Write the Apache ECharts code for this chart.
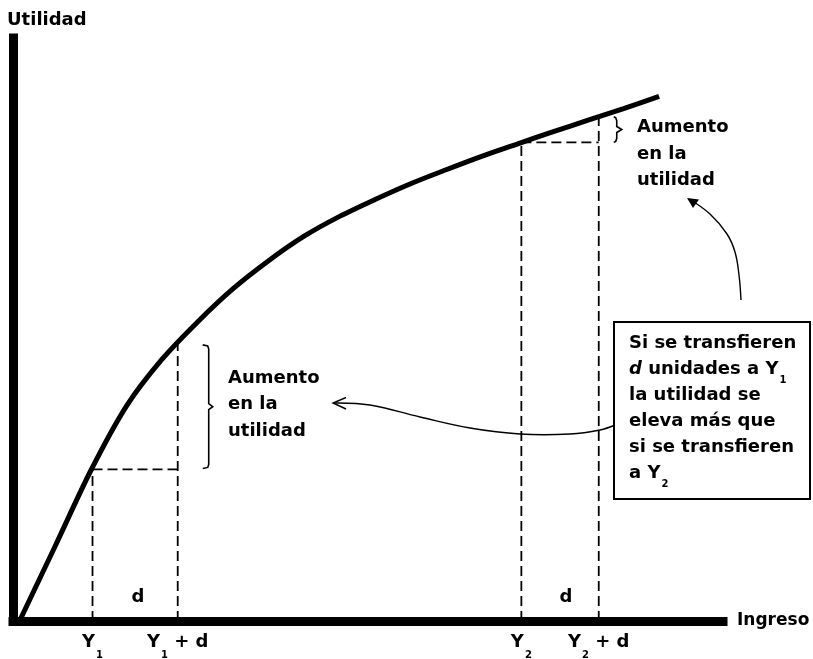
<!DOCTYPE html>
<html>
<head>
<meta charset="utf-8">
<script src="https://cdn.jsdelivr.net/npm/echarts@6/dist/echarts.min.js"></script>
<style>
html, body { margin: 0; padding: 0; background: #fff; }
#chart { width: 813px; height: 659px; }
</style>
</head>
<body>
<div id="chart"></div>
<script>
var incomeCurve = [1, 6, 11, 16, 21, 26, 31, 36, 41, 46, 51, 56, 61, 66, 71, 76, 81, 86, 91];
var utilityCurve = [0.2, 13.0, 25.9, 36.9, 44.9, 51.3, 57.0, 61.8, 66.0, 69.4, 72.3, 75.0, 77.4, 79.7, 81.8, 83.9, 85.9, 87.9, 90.0];

// Y1, Y1+d, Y2, Y2+d y su utilidad
var incomeMarks = [11.2, 23.2, 71.6, 82.5];
var utilityMarks = [26.0, 47.7, 82.1, 86.5];
var tickNames = ['Y_1', 'Y_1 + d', 'Y_2', 'Y_2 + d'];

var FONT = 'DejaVu Sans';

var curveData = incomeCurve.map(function (x, i) { return [x, utilityCurve[i]]; });

function dashed(data) {
    return {
        type: 'line',
        data: data,
        showSymbol: false,
        silent: true,
        lineStyle: { color: '#000', width: 1.8, type: [10, 5] },
        z: 1
    };
}

var series = [];
// verticales punteadas
incomeMarks.forEach(function (x, i) {
    series.push(dashed([[x, 0], [x, utilityMarks[i]]]));
});
// horizontales punteadas
series.push(dashed([[incomeMarks[0], utilityMarks[0]], [incomeMarks[1], utilityMarks[0]]]));
series.push(dashed([[incomeMarks[2], utilityMarks[2]], [incomeMarks[3], utilityMarks[2]]]));
series.push({
    type: 'line',
    data: curveData,
    smooth: 0.3,
    showSymbol: false,
    silent: true,
    lineStyle: { color: '#000', width: 5 },
    z: 3
});

function tickFormatter(value) {
    var i = incomeMarks.indexOf(value);
    if (i < 0) return '';
    var parts = tickNames[i].split('_');
    var rest = parts[1];
    return '{y|' + parts[0] + '}{s|' + rest.charAt(0) + '}' + (rest.length > 1 ? '{y|' + rest.slice(1) + '}' : '');
}

var axisLine = { show: true, onZero: false, lineStyle: { color: '#000', width: 9, cap: 'square' } };

let myChart = echarts.init(document.getElementById('chart'));

let option = {
    animation: false,
    backgroundColor: '#fff',
    grid: { left: 13, right: 90, top: 38, bottom: 38, outerBoundsMode: 'none', containLabel: false },
    xAxis: {
        type: 'value',
        min: 0,
        max: 100,
        axisLine: axisLine,
        axisTick: { show: false },
        splitLine: { show: false },
        axisLabel: {
            customValues: incomeMarks,
            formatter: tickFormatter,
            margin: 9,
            rich: {
                y: { fontFamily: FONT, fontWeight: 'bold', fontSize: 18, color: '#000', lineHeight: 24 },
                s: { fontFamily: FONT, fontWeight: 'bold', fontSize: 10, color: '#000', lineHeight: 24, verticalAlign: 'top', padding: [20, 0, 0, 1] }
            }
        },
        name: 'Ingreso',
        nameLocation: 'end',
        nameGap: 14,
        nameTextStyle: { fontFamily: FONT, fontWeight: 'bold', fontSize: 17, color: '#000', verticalAlign: 'middle' }
    },
    yAxis: {
        type: 'value',
        min: 0,
        max: 100,
        axisLine: axisLine,
        axisTick: { show: false },
        axisLabel: { show: false },
        splitLine: { show: false }
    },
    series: series
};
myChart.setOption(option);

// llave: puntos de una polilinea
function brace(x, top, bottom, hook, tip) {
    var mid = (top + bottom) / 2;
    return [[x - hook, top], [x - 1, top + 1], [x, top + 4], [x, mid - 3], [x + tip, mid],
        [x, mid + 3], [x, bottom - 4], [x - 1, bottom - 1], [x - hook, bottom]];
}

var a1 = myChart.convertToPixel({ gridIndex: 0 }, [incomeMarks[1], utilityMarks[0]]);
var a2 = myChart.convertToPixel({ gridIndex: 0 }, [incomeMarks[1], utilityMarks[1]]);
var b1 = myChart.convertToPixel({ gridIndex: 0 }, [incomeMarks[3], utilityMarks[2]]);
var b2 = myChart.convertToPixel({ gridIndex: 0 }, [incomeMarks[3], utilityMarks[3]]);

var bold = { fontFamily: FONT, fontWeight: 'bold', fontSize: 18, fill: '#000' };
function txt(x, y, text, extra) {
    var st = Object.assign({ x: x, y: y, text: text }, bold, extra || {});
    return { type: 'text', silent: true, style: st };
}
var lineSt = { stroke: '#000', lineWidth: 1.4, fill: null };
var braceSt = { stroke: '#000', lineWidth: 1.6, fill: null };

myChart.setOption({
    graphic: [
        txt(7, 20, 'Utilidad', { verticalAlign: 'middle' }),
        txt(138, 597.5, 'd', { align: 'center', verticalAlign: 'middle' }),
        txt(566, 597.5, 'd', { align: 'center', verticalAlign: 'middle' }),
        txt(228, 365, 'Aumento\nen la\nutilidad', { verticalAlign: 'top', lineHeight: 26.5 }),
        txt(637, 114.5, 'Aumento\nen la\nutilidad', { verticalAlign: 'top', lineHeight: 26.5 }),
        { type: 'polyline', silent: true, shape: { points: brace(a1[0] + 31, a2[1] + 2, a1[1] - 1, 6, 4) }, style: braceSt },
        { type: 'polyline', silent: true, shape: { points: brace(b1[0] + 18, b2[1], b1[1], 3, 5) }, style: braceSt },
        { type: 'rect', silent: true, shape: { x: 614, y: 322, width: 196, height: 177 }, style: { stroke: '#000', lineWidth: 2, fill: '#fff' }, z: 10 },
        {
            type: 'text', silent: true, z: 11,
            style: {
                x: 629, y: 330.5, verticalAlign: 'top', lineHeight: 26,
                text: '{b|Si se transfieren}\n{i|d}{b| unidades a Y}{s|1}\n{b|la utilidad se}\n{b|eleva más que}\n{b|si se transfieren}\n{b|a Y}{s|2}',
                rich: {
                    b: { fontFamily: FONT, fontWeight: 'bold', fontSize: 18, fill: '#000', lineHeight: 26 },
                    i: { fontFamily: FONT, fontWeight: 'bold', fontStyle: 'italic', fontSize: 18, fill: '#000', lineHeight: 26 },
                    s: { fontFamily: FONT, fontWeight: 'bold', fontSize: 10, fill: '#000', lineHeight: 26, verticalAlign: 'top', padding: [19, 0, 0, 1] }
                }
            }
        },
        // flecha hacia la izquierda
        { type: 'polyline', silent: true, z: 5, shape: { smooth: 0.4, points: [[615, 425], [600, 430], [570, 434], [520, 434], [470, 428], [420, 417], [370, 405], [334, 403]] }, style: lineSt },
        { type: 'polyline', silent: true, z: 5, shape: { points: [[346, 397.5], [333, 403], [346, 409]] }, style: lineSt },
        // flecha hacia arriba
        { type: 'polyline', silent: true, z: 5, shape: { smooth: 0.4, points: [[741, 300], [739, 275], [735, 252], [727, 234], [710, 214], [689, 199]] }, style: lineSt },
        { type: 'polygon', silent: true, z: 5, shape: { points: [[687, 198], [699, 199.5], [693, 208]] }, style: { fill: '#000' } }
    ]
});
</script>
</body>
</html>
